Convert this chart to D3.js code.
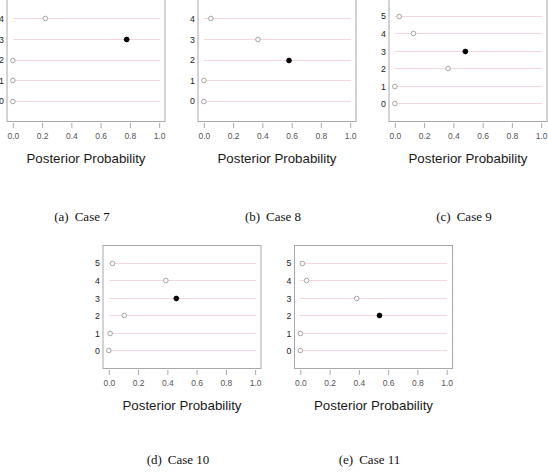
<!DOCTYPE html>
<html>
<head>
<meta charset="utf-8">
<script src="https://cdn.jsdelivr.net/npm/d3@7"></script>
<style>
  html, body { margin: 0; padding: 0; background: #fff; }
  svg { display: block; }
</style>
</head>
<body>
<svg id="chart" width="548" height="475"></svg>
<script>
// ---- data ----
const letters = ["(a)", "(b)", "(c)", "(d)", "(e)"];
const caseNames = ["Case 7", "Case 8", "Case 9", "Case 10", "Case 11"];
// posterior probability per model index 0..n-1
const probs7  = [0.000, 0.000, 0.000, 0.778, 0.222];
const probs8  = [0.000, 0.000, 0.582, 0.370, 0.048];
const probs9  = [0.000, 0.000, 0.364, 0.482, 0.127, 0.030];
const probs10 = [0.000, 0.009, 0.105, 0.461, 0.390, 0.025];
const probs11 = [0.000, 0.000, 0.541, 0.385, 0.043, 0.014];
const xTicks = [0.0, 0.2, 0.4, 0.6, 0.8, 1.0];
const xTickLabels = ["0.0", "0.2", "0.4", "0.6", "0.8", "1.0"];
const xTitle = "Posterior Probability";

const seriesList = [probs7, probs8, probs9, probs10, probs11];

// ---- layout ----
const boxW = 158, boxH = 123;
const boxes = [
  { left: 7,     top: -1.5 },
  { left: 198,   top: -1.5 },
  { left: 389,   top: -1.5 },
  { left: 103,   top: 245.5 },
  { left: 294.5, top: 245.5 }
];
const captionY = [216, 216, 216, 459, 459];

const svg = d3.select("#chart");
const snap = v => Math.round(v - 0.5) + 0.5;

seriesList.forEach((vals, i) => {
  const b = boxes[i];
  const n = vals.length;
  const g = svg.append("g");

  const x = d3.scaleLinear().domain([-0.04, 1.04]).range([b.left, b.left + boxW]);
  const y = d3.scaleLinear().domain([0, n + 1]).range([b.top + boxH, b.top]);

  // gridlines
  g.selectAll("line.grid").data(vals).enter().append("line")
    .attr("x1", x(0)).attr("x2", x(1.005))
    .attr("y1", (d, k) => snap(y(k + 1))).attr("y2", (d, k) => snap(y(k + 1)))
    .attr("stroke", "#f7d6dd").attr("stroke-width", 1)
    .attr("shape-rendering", "crispEdges");

  // box
  g.append("rect")
    .attr("x", b.left).attr("y", b.top).attr("width", boxW).attr("height", boxH)
    .attr("fill", "none").attr("stroke", "#a8a8a8").attr("stroke-width", 1);

  // x axis ticks
  const axisY = b.top + boxH + 1.5;
  const ax = g.append("g").attr("transform", `translate(0,${axisY})`)
    .call(d3.axisBottom(x).tickValues(xTicks).tickSize(5).tickPadding(5)
      .tickFormat((d, k) => xTickLabels[k]));
  ax.select(".domain").remove();
  ax.selectAll(".tick line").attr("stroke", "#a8a8a8");
  ax.selectAll(".tick text")
    .attr("font-family", "Liberation Sans, Arial, sans-serif")
    .attr("font-size", 8.5).attr("fill", "#555");

  // y labels
  const yAx = g.append("g").attr("transform", `translate(${b.left},0)`)
    .call(d3.axisLeft(y).tickValues(d3.range(1, n + 1)).tickSize(0).tickPadding(3)
      .tickFormat(d => String(d - 1)));
  yAx.select(".domain").remove();
  yAx.selectAll(".tick text")
    .attr("font-family", "Liberation Sans, Arial, sans-serif")
    .attr("font-size", 8.8).attr("fill", "#222");

  // points
  const maxV = d3.max(vals);
  g.selectAll("circle.pt").data(vals).enter().append("circle")
    .attr("cx", d => x(d)).attr("cy", (d, k) => snap(y(k + 1)))
    .attr("r", d => d === maxV ? 2.4 : 2.3)
    .attr("fill", d => d === maxV ? "#000" : "#fff")
    .attr("stroke", d => d === maxV ? "#000" : "#9a9a9a")
    .attr("stroke-width", 0.9);

  // x title
  g.append("text")
    .attr("x", b.left + boxW / 2).attr("y", b.top + boxH + 37)
    .attr("text-anchor", "middle").attr("dominant-baseline", "central")
    .attr("font-family", "Liberation Sans, Arial, sans-serif")
    .attr("font-size", 13.3).attr("fill", "#1a1a1a")
    .text(xTitle);

  // caption
  const cx = b.left + boxW / 2 - 4;
  const cap = g.append("text")
    .attr("x", cx).attr("y", captionY[i])
    .attr("text-anchor", "middle").attr("dominant-baseline", "central")
    .attr("font-family", "Liberation Serif, Times New Roman, serif")
    .attr("font-size", 13).attr("fill", "#111");
  cap.append("tspan").text(letters[i]);
  cap.append("tspan").attr("dx", 6).text(caseNames[i]);
});
</script>
</body>
</html>
